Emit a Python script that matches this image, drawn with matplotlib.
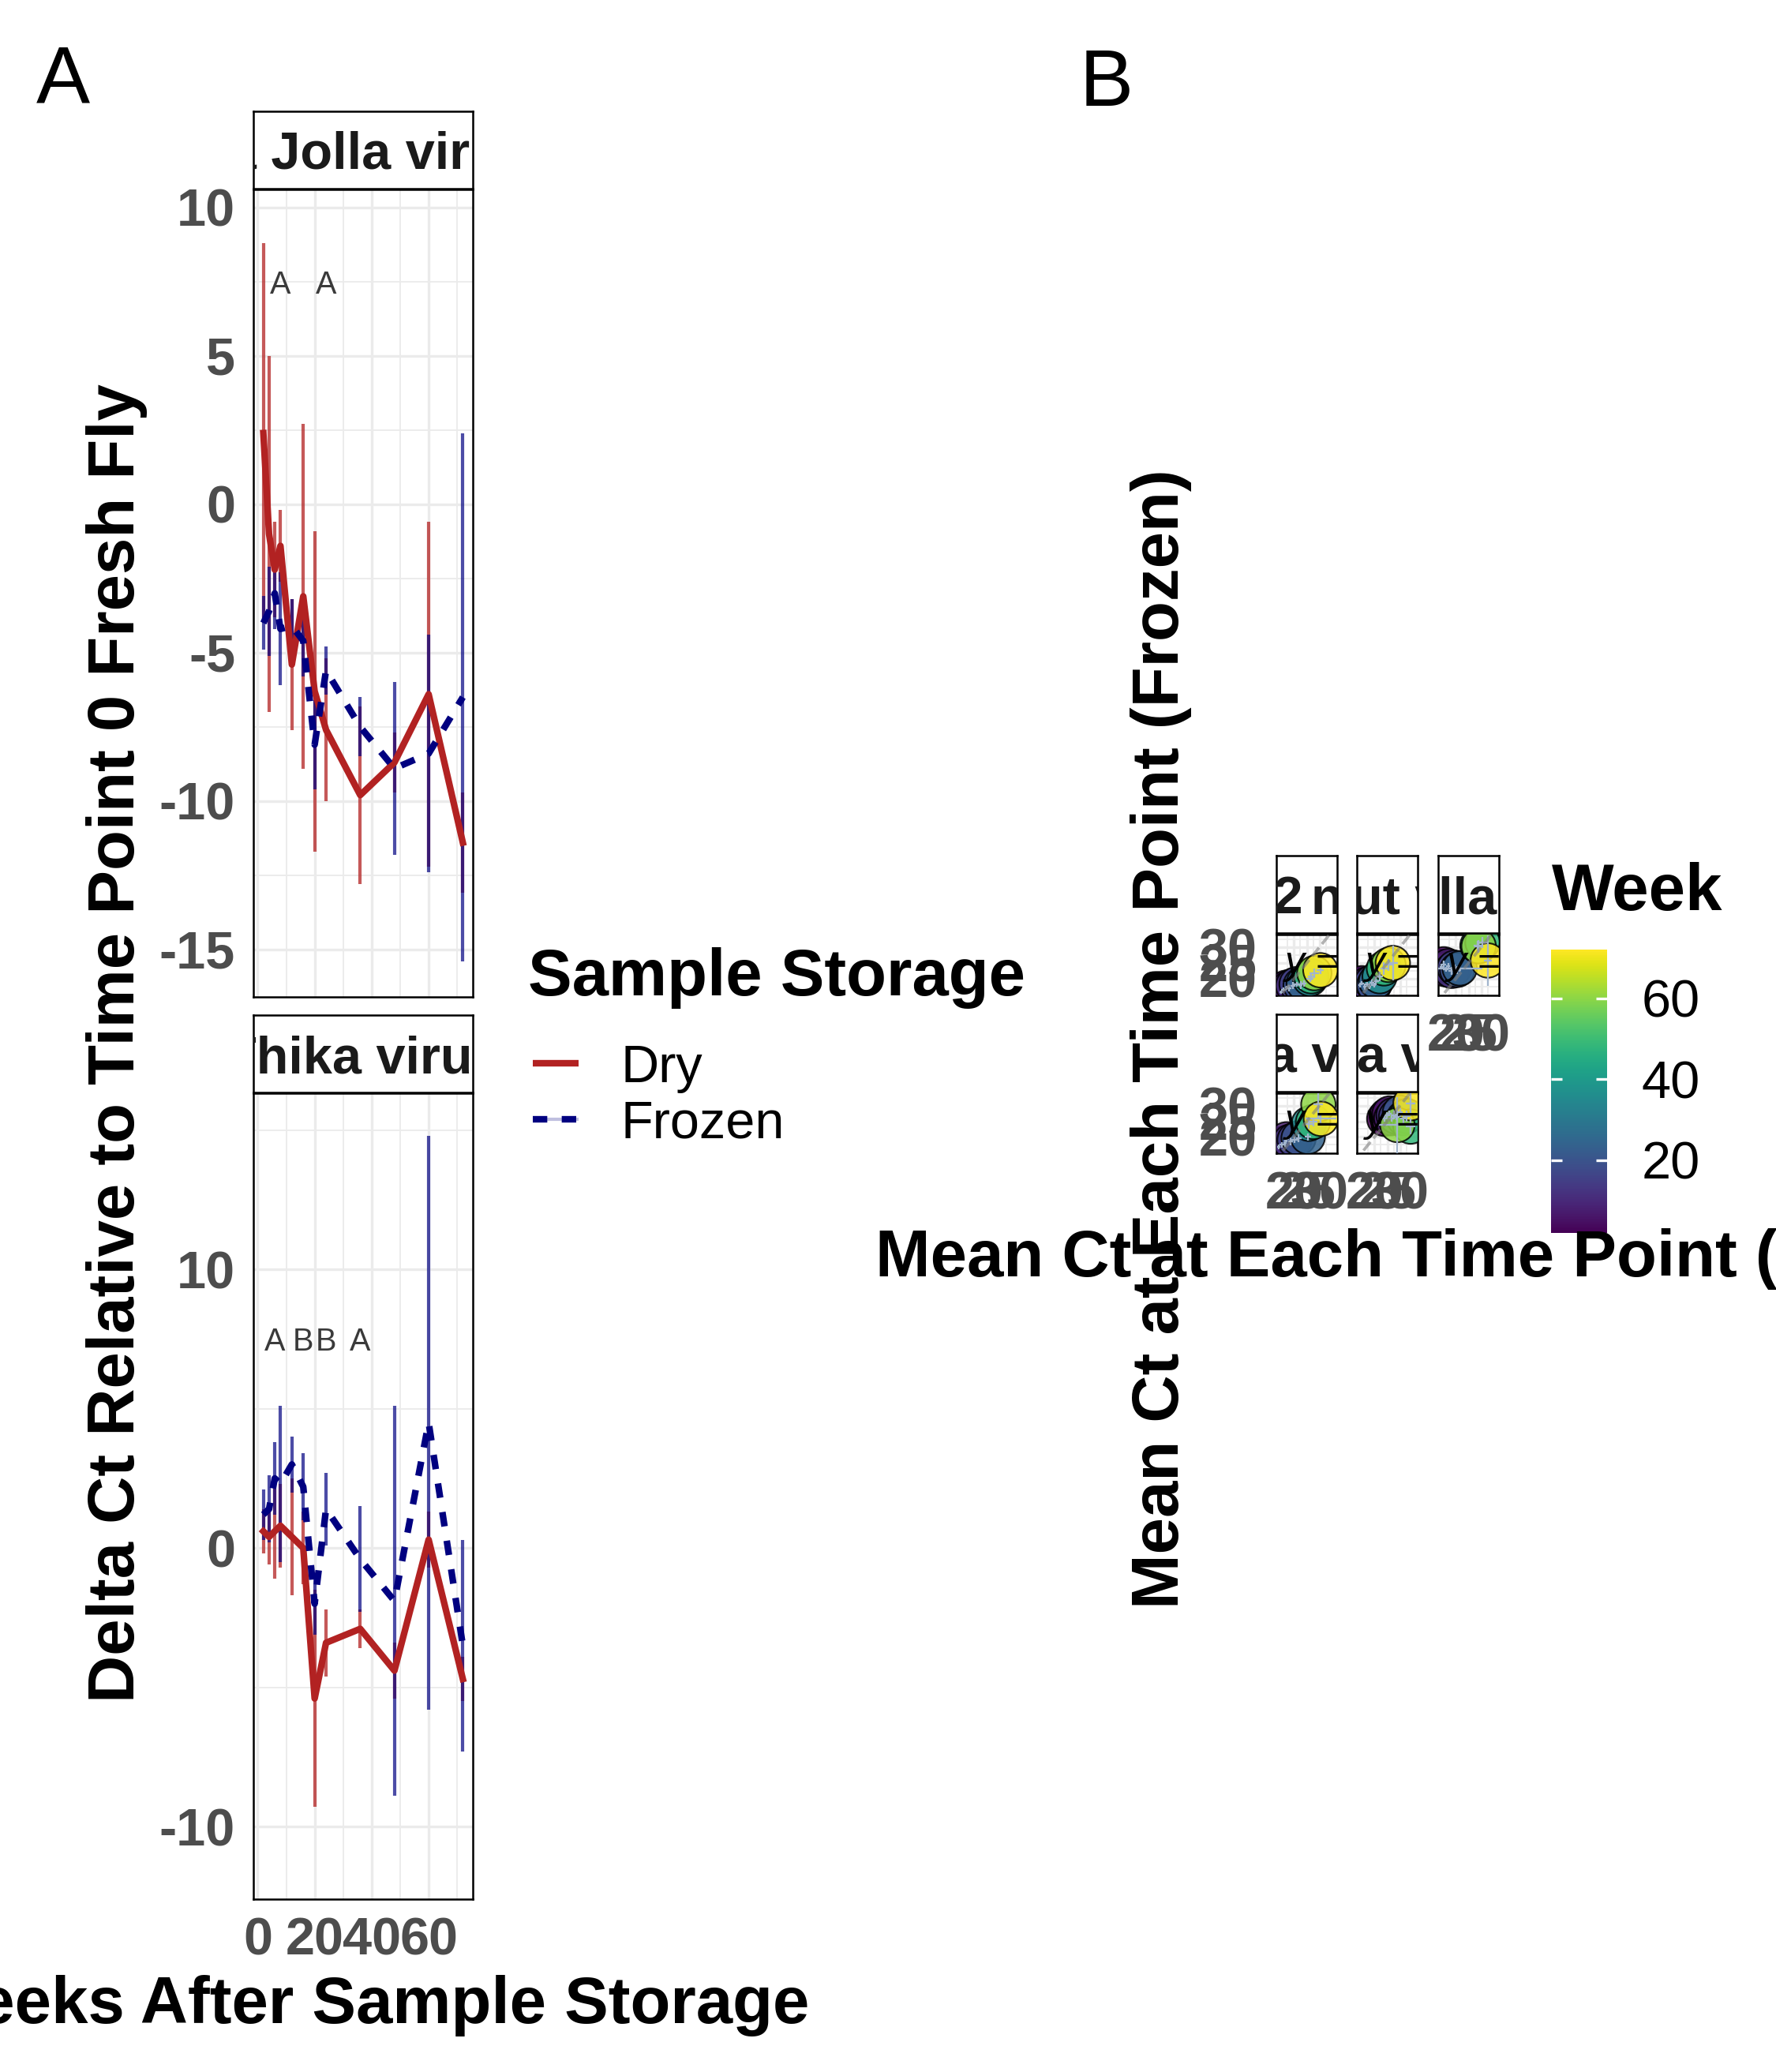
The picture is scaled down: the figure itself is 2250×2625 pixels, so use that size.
import numpy as np
import matplotlib as mpl
import matplotlib.pyplot as plt
from matplotlib.lines import Line2D

plt.rcParams['font.family'] = ['Liberation Sans', 'DejaVu Sans']
plt.rcParams['mathtext.fontset'] = 'custom'
plt.rcParams['mathtext.rm'] = 'Liberation Sans'
plt.rcParams['mathtext.it'] = 'Liberation Sans:italic'

# ---- panel A data: delta Ct vs weeks ----
weeks = [2, 4, 6, 8, 12, 16, 20, 24, 36, 48, 60, 72]

dry_lj = [2.4, -1.0, -2.2, -1.4, -5.4, -3.1, -6.3, -7.6, -9.8, -8.7, -6.4, -11.4]
dry_lj_err = [6.4, 6.0, 1.6, 1.2, 2.2, 5.8, 5.4, 2.4, 3.0, 1.0, 5.8, 1.7]
frz_lj = [-4.0, -3.6, -3.0, -4.2, -4.1, -4.6, -8.1, -5.6, -7.5, -8.9, -8.4, -6.5]
frz_lj_err = [0.9, 1.5, 1.2, 1.9, 0.9, 1.2, 1.5, 0.8, 1.0, 2.9, 4.0, 8.9]

dry_th = [0.6, 0.4, 0.6, 0.8, 0.4, 0.0, -5.4, -3.4, -2.9, -4.4, 0.3, -4.7]
dry_th_err = [0.8, 1.0, 1.7, 1.5, 2.1, 1.3, 3.9, 1.2, 0.7, 1.0, 1.0, 0.8]
frz_th = [1.2, 1.4, 2.5, 2.3, 3.0, 2.2, -2.0, 1.4, -0.4, -1.9, 4.5, -3.5]
frz_th_err = [0.9, 1.2, 1.3, 2.8, 1.0, 1.2, 1.1, 1.3, 1.9, 7.0, 10.3, 3.8]

ann_lj_x = [8, 24]
ann_lj_lab = ['A', 'A']
ann_th_x = [6, 16, 24, 36]
ann_th_lab = ['A', 'B', 'B', 'A']

# ---- panel B data: mean Ct dry (x) vs frozen (y), per virus ----
b_names = ['Drosophila 2 nodavirus', 'Galbut virus', 'La Jolla virus', 'Nora virus', 'Thika virus']
b_x = [
    [14.9, 15.8, 17.0, 18.0, 19.6, 21.0, 22.6, 23.8, 26.3, 26.8, 28.0, 30.4],
    [14.2, 15.0, 16.2, 17.0, 18.0, 18.9, 19.8, 20.6, 22.0, 23.7, 25.5, 27.2],
    [14.3, 15.2, 16.0, 17.0, 18.3, 19.5, 20.5, 21.5, 28.5, 30.5, 29.0, 32.6],
    [13.9, 15.2, 16.5, 17.0, 18.5, 20.2, 21.8, 25.4, 25.8, 27.5, 29.6, 30.6],
    [23.8, 24.8, 25.9, 26.6, 27.5, 28.5, 30.0, 31.5, 32.7, 34.2, 29.0, 34.2],
]
b_y = [
    [15.8, 16.6, 17.2, 17.0, 17.8, 18.3, 18.0, 18.5, 20.0, 20.8, 21.8, 22.7],
    [18.0, 18.6, 17.5, 18.2, 17.6, 18.8, 18.0, 19.2, 20.8, 23.3, 24.4, 25.0],
    [23.8, 24.6, 23.0, 24.0, 22.5, 23.5, 22.8, 23.3, 30.5, 31.5, 30.3, 25.8],
    [16.8, 17.5, 18.0, 19.2, 18.5, 19.0, 19.6, 20.0, 24.2, 24.8, 30.4, 25.8],
    [25.8, 26.8, 27.5, 26.0, 27.0, 26.5, 27.8, 26.0, 26.7, 23.3, 23.8, 30.8],
]
b_xerr = [
    [0.6, 0.8, 0.7, 1.0, 0.9, 1.2, 0.8, 1.0, 1.5, 1.2, 1.8, 1.4],
    [0.5, 0.8, 0.6, 0.9, 0.7, 1.0, 0.8, 1.1, 1.3, 1.5, 1.6, 1.9],
    [0.7, 0.9, 1.0, 0.8, 1.2, 1.0, 1.4, 9.0, 1.6, 2.0, 1.8, 1.5],
    [0.6, 0.8, 0.7, 1.0, 0.9, 1.2, 1.1, 1.3, 1.4, 1.6, 1.8, 6.0],
    [0.8, 1.0, 0.9, 1.2, 1.1, 1.3, 1.0, 1.4, 1.6, 1.8, 8.0, 2.0],
]
b_yerr = [
    [0.5, 0.7, 0.6, 0.9, 1.1, 0.8, 1.3, 0.9, 1.0, 1.2, 1.5, 1.1],
    [0.8, 0.6, 1.0, 0.7, 0.9, 1.1, 0.8, 1.2, 1.5, 2.0, 1.8, 5.5],
    [0.9, 1.1, 0.8, 1.0, 1.3, 0.9, 1.2, 1.0, 1.5, 1.8, 2.0, 8.0],
    [0.7, 0.9, 1.1, 0.8, 1.2, 1.0, 1.3, 1.1, 1.5, 1.4, 4.5, 1.6],
    [1.0, 1.2, 0.9, 1.1, 1.4, 1.0, 1.3, 1.5, 1.8, 2.5, 9.0, 3.5],
]
b_eq = [r'$y$ = 0.62$x$ + 6.4', r'$y$ = 0.71$x$ + 6.1', r'$y$ = 0.65$x$ + 11',
        r'$y$ = 0.83$x$ + 4.2', r'$y$ = 0.37$x$ + 16']

DRY = '#B22222'
FRZ = '#000080'
GRID = '#EBEBEB'
TICK = '#4D4D4D'

W, H = 2250, 2625
fig = plt.figure(figsize=(7.5, 8.75), dpi=300)


def box(x0, y0, x1, y1):
    return [x0 / W, 1 - y1 / H, (x1 - x0) / W, (y1 - y0) / H]


def fx(x):
    return x / W


def fy(y):
    return 1 - y / H


def strip(x0, y0, x1, y1, label):
    ax = fig.add_axes(box(x0, y0, x1, y1))
    ax.set_xlim(0, 1)
    ax.set_ylim(0, 1)
    ax.set_xticks([])
    ax.set_yticks([])
    for s in ax.spines.values():
        s.set_linewidth(0.6)
        s.set_color('black')
    yb = 0.5 - 24 / (y1 - y0)  # baseline so the caps sit in the middle
    kw = dict(va='baseline', fontsize=16, fontweight='bold', color='#1A1A1A',
              clip_on=True)
    if isinstance(label, tuple):
        # label split around the visible centre
        ax.text(0.44, yb, label[0], ha='right', **kw)
        ax.text(0.56, yb, label[1], ha='left', **kw)
    else:
        ax.text(0.5, yb, label, ha='center', **kw)
    return ax


def facet_a(y0, y1, ylim, major, minor, labels, dry, dry_err, frz, frz_err,
            ann_x, ann_lab, show_x):
    ax = fig.add_axes(box(321, y0, 599, y1))
    ax.set_xlim(-1.5, 75.5)
    ax.set_ylim(*ylim)
    ax.set_xticks([0, 20, 40, 60])
    ax.set_xticks([10, 30, 50, 70], minor=True)
    ax.set_yticks(major)
    ax.set_yticks(minor, minor=True)
    ax.set_yticklabels(labels)
    ax.grid(which='major', color=GRID, lw=0.8)
    ax.grid(which='minor', color=GRID, lw=0.45)
    ax.set_axisbelow(True)
    ax.tick_params(which='both', length=0)
    ax.tick_params(axis='y', pad=5.5, labelsize=16, labelcolor=TICK)
    ax.tick_params(axis='x', pad=5.5, labelsize=16, labelcolor=TICK,
                   labelbottom=show_x)
    for t in ax.get_xticklabels() + ax.get_yticklabels():
        t.set_fontweight('bold')
    for s in ax.spines.values():
        s.set_linewidth(0.6)

    d = np.array(dry)
    de = np.array(dry_err)
    f = np.array(frz)
    fe = np.array(frz_err)
    ax.vlines(weeks, d - de, d + de, colors=DRY, lw=1.0, alpha=0.75, zorder=2)
    ax.vlines(weeks, f - fe, f + fe, colors=FRZ, lw=1.0, alpha=0.7, zorder=2)
    ax.plot(weeks, dry, color=DRY, lw=2.0, zorder=3)
    ax.plot(weeks, frz, color=FRZ, lw=2.0, ls=(0, (2.2, 2.2)), zorder=3)
    for xv, lab in zip(ann_x, ann_lab):
        ax.text(xv, 7.4, lab, ha='center', va='center', fontsize=9.5,
                color='#3A3A3A', zorder=4)
    return ax


# ---- panel A ----
strip(321, 141, 599, 239, 'La Jolla virus')
facet_a(240, 1263, (-16.6, 10.61), [10, 5, 0, -5, -10, -15],
        [7.5, 2.5, -2.5, -7.5, -12.5], ['10', '5', '0', '-5', '-10', '-15'],
        dry_lj, dry_lj_err, frz_lj, frz_lj_err, ann_lj_x, ann_lj_lab, False)
strip(321, 1286, 599, 1384, 'Thika virus')
facet_a(1385, 2406, (-12.6, 16.32), [10, 0, -10], [15, 5, -5],
        ['10', '0', '-10'],
        dry_th, dry_th_err, frz_th, frz_th_err, ann_th_x, ann_th_lab, True)

fig.text(fx(148), fy(1322), 'Delta Ct Relative to Time Point 0 Fresh Fly',
         rotation=90, ha='center', va='center', fontsize=20, fontweight='bold')
fig.text(fx(460), fy(2563), 'Weeks After Sample Storage', ha='center',
         va='baseline', fontsize=20, fontweight='bold')

# legend
fig.text(fx(669), fy(1261), 'Sample Storage', ha='left', va='baseline',
         fontsize=20, fontweight='bold')
fig.add_artist(Line2D([fx(675), fx(733)], [fy(1347), fy(1347)], color=DRY,
                      lw=2.0, solid_capstyle='butt'))
fig.add_artist(Line2D([fx(675), fx(733)], [fy(1418), fy(1418)], color=FRZ,
                      lw=1.0, alpha=0.25, solid_capstyle='butt'))
fig.add_artist(Line2D([fx(675), fx(733)], [fy(1418), fy(1418)], color=FRZ,
                      lw=2.0, ls=(0, (2.2, 2.2)), dash_capstyle='butt'))
fig.text(fx(787), fy(1371), 'Dry', ha='left', va='baseline', fontsize=16)
fig.text(fx(787), fy(1442), 'Frozen', ha='left', va='baseline', fontsize=16)

# ---- panel B ----
cols = [1617, 1719, 1822]
rows = [(1084, 1182, 1184, 1261), (1285, 1383, 1385, 1461)]
cmap = mpl.colormaps['viridis']
norm = mpl.colors.Normalize(2, 72)

for i, name in enumerate(b_names):
    r, c = divmod(i, 3)
    x0 = cols[c]
    s0, s1, p0, p1 = rows[r]
    label = ('Drosophila 2', 'nodavirus') if i == 0 else name
    strip(x0, s0, x0 + 77, s1, label)
    ax = fig.add_axes(box(x0, p0, x0 + 77, p1))
    ax.set_xlim(13, 37)
    ax.set_ylim(14.75, 34)
    ax.set_xticks([20, 25, 30])
    ax.set_yticks([20, 25, 30])
    ax.set_xticks([17.5, 22.5, 27.5, 32.5], minor=True)
    ax.set_yticks([17.5, 22.5, 27.5, 32.5], minor=True)
    ax.grid(which='major', color=GRID, lw=0.8)
    ax.grid(which='minor', color=GRID, lw=0.45)
    ax.set_axisbelow(True)
    ax.tick_params(which='both', length=0)
    show_y = c == 0
    show_x = (r == 1) or (c == 2)
    ax.tick_params(axis='y', pad=5.8, labelsize=16, labelcolor=TICK, labelleft=show_y)
    ax.tick_params(axis='x', pad=5.5, labelsize=16, labelcolor=TICK, labelbottom=show_x)
    for t in ax.get_xticklabels() + ax.get_yticklabels():
        t.set_fontweight('bold')
    for s in ax.spines.values():
        s.set_linewidth(0.6)

    ax.scatter(b_x[i], b_y[i], c=weeks, cmap=cmap, norm=norm, s=110,
               edgecolors='black', linewidths=0.5, alpha=0.85, zorder=3)
    ax.errorbar(b_x[i], b_y[i], xerr=b_xerr[i], yerr=b_yerr[i], fmt='none',
                ecolor='#A2B5CD', elinewidth=0.55, capsize=0, zorder=4)
    ax.plot([0, 50], [0, 50], color='gray', ls='--', lw=0.9, alpha=0.6, zorder=5)
    ax.text(0.1, 0.52, b_eq[i], transform=ax.transAxes, ha='left', va='center',
            fontsize=12, clip_on=True, zorder=6)

fig.text(fx(1471), fy(1316), 'Mean Ct at Each Time Point (Frozen)', rotation=90,
         ha='center', va='center', fontsize=20, fontweight='bold')
fig.text(fx(1109), fy(1617), 'Mean Ct at Each Time Point (Dry)', ha='left',
         va='baseline', fontsize=20, fontweight='bold')

# colour bar
cax = fig.add_axes(box(1965, 1203, 2036, 1562))
sm = mpl.cm.ScalarMappable(norm=norm, cmap=cmap)
cb = fig.colorbar(sm, cax=cax, ticks=[20, 40, 60])
cb.outline.set_visible(False)
cax.tick_params(length=0, pad=10.5, labelsize=16)
cax.hlines([20, 40, 60], 0, 0.2, colors='white', lw=0.8,
           transform=cax.get_yaxis_transform())
cax.hlines([20, 40, 60], 0.8, 1, colors='white', lw=0.8,
           transform=cax.get_yaxis_transform())
fig.text(fx(1966), fy(1153), 'Week', ha='left', va='baseline', fontsize=20,
         fontweight='bold')

# tags
fig.text(fx(80), fy(130), 'A', ha='center', va='baseline', fontsize=24.5)
fig.text(fx(1402), fy(134), 'B', ha='center', va='baseline', fontsize=24.5)

fig.savefig('out.png', dpi=300)
